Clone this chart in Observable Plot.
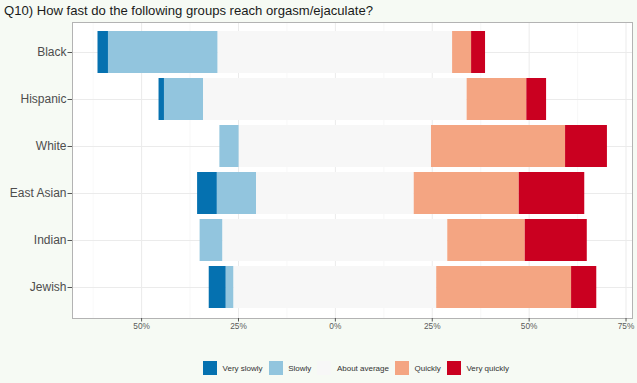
<!DOCTYPE html>
<html><head><meta charset="utf-8">
<script src="https://cdn.jsdelivr.net/npm/d3@7"></script>
<script src="https://cdn.jsdelivr.net/npm/@observablehq/plot@0.6"></script>
<style>
body{margin:0;background:#f6faf4;font-family:"Liberation Sans",Arial,sans-serif;}
#wrap{position:relative;width:637px;height:383px;overflow:hidden;background:#f6faf4}
#title{position:absolute;left:4px;top:4px;font-size:13.1px;line-height:1;color:#1a1a1a;white-space:nowrap}
#chart{position:absolute;left:0;top:0}
#legend{position:absolute;left:203px;top:361px;height:14px;display:flex;align-items:center;font-size:8px;color:#333;white-space:nowrap}
#legend .sw{width:14px;height:14px;margin-right:5.6px}
#legend .lb{margin-right:6px}
</style>
</head><body>
<div id="wrap">
  <div id="chart"></div>
  <div id="title">Q10) How fast do the following groups reach orgasm/ejaculate?</div>
  <div id="legend"></div>
</div>
<script>
const groups = ["Black", "Hispanic", "White", "East Asian", "Indian", "Jewish"];
const responses = ["Very slowly", "Slowly", "About average", "Quickly", "Very quickly"];
const colors = ["#0571b0", "#92c5de", "#f7f7f7", "#f4a582", "#ca0020"];
const verySlowly  = [2.7, 1.4, 0.0, 5.1, 0.0, 4.4];
const slowly      = [28.3, 10.1, 5.0, 10.1, 5.9, 2.0];
const aboutAvg    = [60.5, 68.0, 49.6, 40.7, 58.0, 52.3];
const quickly     = [4.9, 15.4, 34.6, 27.1, 20.0, 34.8];
const veryQuickly = [3.6, 5.1, 10.8, 16.9, 16.0, 6.5];
const xTicks = [-50, -25, 0, 25, 50, 75];
const xMinorTicks = [-62.5, -37.5, -12.5, 12.5, 37.5, 62.5];

const series = [verySlowly, slowly, aboutAvg, quickly, veryQuickly];
const rows = [];
groups.forEach((g, i) => {
  let start = -(verySlowly[i] + slowly[i] + aboutAvg[i] / 2);
  series.forEach((s, k) => {
    const v = s[i];
    rows.push({group: g, response: responses[k], x1: start, x2: start + v, value: v});
    start += v;
  });
});

const chart = Plot.plot({
  width: 637,
  height: 383,
  marginLeft: 72,
  marginRight: 5,
  marginTop: 22,
  marginBottom: 65,
  style: {background: "transparent", fontFamily: "'Liberation Sans', Arial, sans-serif", overflow: "visible"},
  x: {domain: [-67.83, 76.67], label: null},
  y: {domain: groups, padding: 0.1, paddingOuter: 0.15, label: null},
  color: {domain: responses, range: colors},
  marks: [
    Plot.frame({fill: "white", stroke: null}),
    Plot.ruleX(xMinorTicks, {stroke: "#f3f3f3", strokeWidth: 0.6}),
    Plot.ruleX(xTicks, {stroke: "#ebebeb", strokeWidth: 1}),
    Plot.ruleY(groups, {y: d => d, stroke: "#ebebeb", strokeWidth: 1}),
    Plot.barX(rows.filter(d => d.value > 0), {x1: "x1", x2: "x2", y: "group", fill: "response"}),
    Plot.frame({stroke: "#b3b3b3", strokeWidth: 1}),
    Plot.axisY({tickSize: 4.5, tickPadding: 1.5, fontSize: 12, fill: "#4d4d4d", stroke: "#555", label: null}),
    Plot.axisX({ticks: xTicks, tickSize: 3.5, tickPadding: 1.5, fontSize: 8.3, fill: "#5a5a5a", stroke: "#555",
      tickFormat: d => Math.abs(d) + "%", label: null})
  ]
});
document.getElementById("chart").appendChild(chart);

const legend = document.getElementById("legend");
responses.forEach((r, k) => {
  const sw = document.createElement("span");
  sw.className = "sw";
  sw.style.background = colors[k];
  const lb = document.createElement("span");
  lb.className = "lb";
  lb.textContent = r;
  legend.appendChild(sw);
  legend.appendChild(lb);
});
</script>
</body></html>
